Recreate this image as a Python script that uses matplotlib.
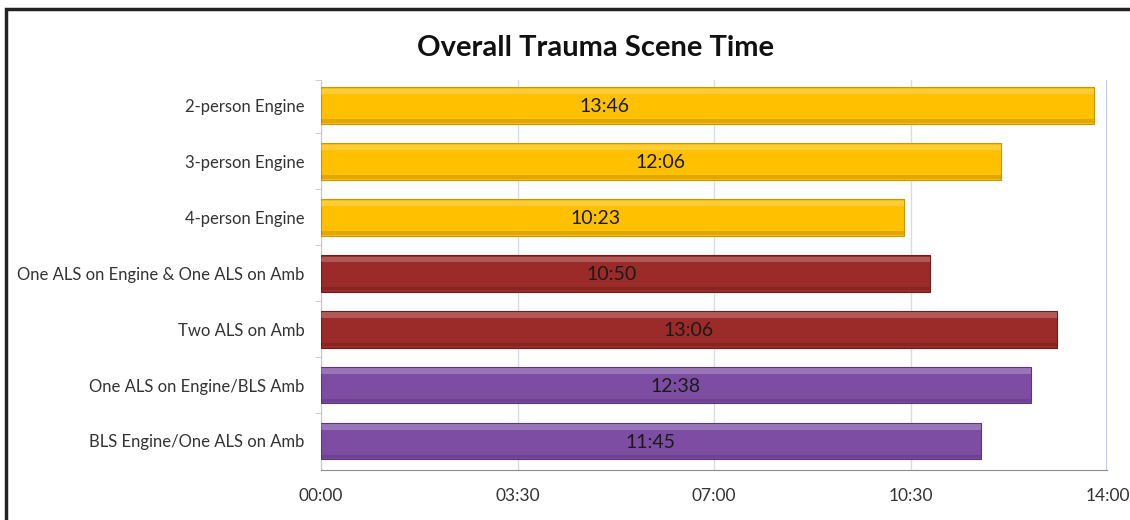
import matplotlib
matplotlib.use("Agg")
import matplotlib.pyplot as plt
from matplotlib.ticker import FuncFormatter
from matplotlib.patches import Rectangle

categories = ["2-person Engine", "3-person Engine", "4-person Engine",
              "One ALS on Engine & One ALS on Amb", "Two ALS on Amb",
              "One ALS on Engine/BLS Amb", "BLS Engine/One ALS on Amb"]
# scene times in seconds
values = [826, 726, 623, 650, 786, 758, 705]
value_labels = ["13:46", "12:06", "10:23", "10:50", "13:06", "12:38", "11:45"]
groups = ["engine", "engine", "engine", "als2", "als2", "mixed", "mixed"]
tick_seconds = [0, 210, 420, 630, 840]

colors = {"engine": "#FFC000", "als2": "#9B2B28", "mixed": "#7D4DA3"}
edges = {"engine": "#C99700", "als2": "#6E1D1B", "mixed": "#5A3580"}
label_frac = [0.367, 0.5, 0.47, 0.478, 0.5, 0.5, 0.5]

plt.rcParams['font.family'] = ['Lato', 'DejaVu Sans']

fig = plt.figure(figsize=(11.3, 5.2), dpi=100)
ax = fig.add_axes([0.284, 0.096, 0.696, 0.75])

# outer border
fig.patches.append(Rectangle((0.0055, -0.05), 1.2, 1.0325, transform=fig.transFigure,
                             fill=False, edgecolor="#222222", linewidth=2.5))

h = 0.66
ys = list(range(len(categories)))
for y, v, g in zip(ys, values, groups):
    ax.barh(y, v, height=h, color=colors[g], edgecolor=edges[g], linewidth=0.8, zorder=3)
    ax.barh(y - h * 0.38, v, height=h * 0.14, color="white", alpha=0.22, linewidth=0, zorder=4)
    ax.barh(y + h * 0.42, v, height=h * 0.10, color="black", alpha=0.12, linewidth=0, zorder=4)

for y, v, lab, f in zip(ys, values, value_labels, label_frac):
    ax.text(v * f, y + 0.03, lab, ha="center", va="center", fontsize=14,
            color="#1a1a1a", zorder=5)

ax.set_xlim(tick_seconds[0], tick_seconds[-1])
ax.set_ylim(6.52, -0.45)
ax.set_xticks(tick_seconds)
ax.xaxis.set_major_formatter(FuncFormatter(lambda s, p: f"{int(s)//60:02d}:{int(s)%60:02d}"))
ax.set_yticks(ys)
ax.set_yticklabels(categories, fontsize=12, color="#333333")
ax.tick_params(axis="y", length=0, pad=12)
ax.tick_params(axis="x", length=0, pad=13, labelsize=12.5, labelcolor="#333333")
ax.set_yticks([y + 0.5 for y in ys[:-1]] + [-0.45], minor=True)
ax.tick_params(axis="y", which="minor", length=4, color="#c8c8c8", direction="out")

ax.grid(axis="x", color="#D5DCE6", linewidth=1.0, zorder=0)
for s in ["top", "right"]:
    ax.spines[s].set_visible(False)
ax.spines["left"].set_color("#c8c8c8")
ax.spines["bottom"].set_color("#8c8c8c")
ax.axvline(tick_seconds[-1], color="#A9BEE0", linewidth=1.2, zorder=1)

fig.text(0.527, 0.908, "Overall Trauma Scene Time", ha="center", va="center",
         fontsize=21, fontweight="bold", color="#111111")

fig.savefig("out.png", dpi=100)
